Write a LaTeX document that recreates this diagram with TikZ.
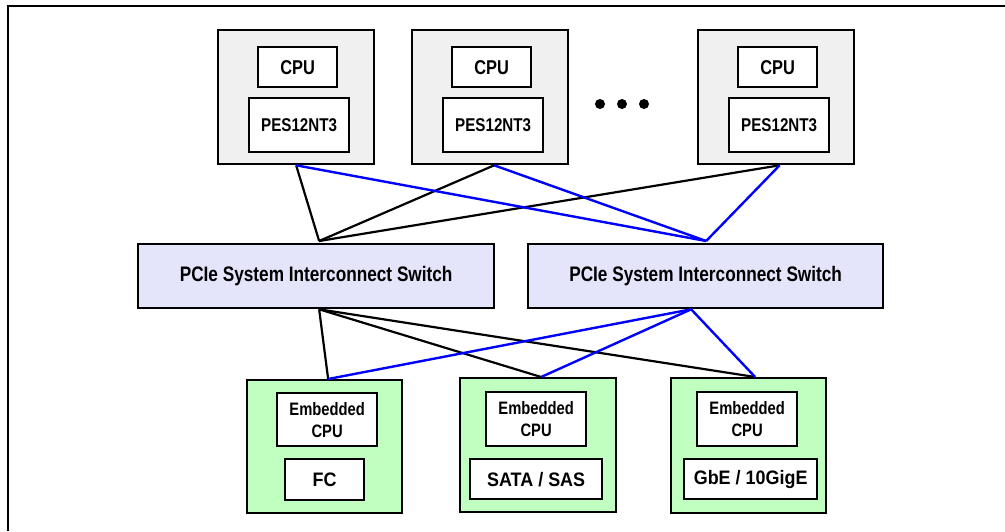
\documentclass[tikz,border=0pt]{standalone}
\usepackage{fontspec}
\setmainfont{Liberation Sans}
\newfontfamily\nf{Liberation Sans}[FakeStretch=0.82]
\newfontfamily\wf{Liberation Sans}[FakeStretch=0.92]
\usetikzlibrary{calc}
\definecolor{hostgray}{HTML}{F0F0F0}
\definecolor{swfill}{HTML}{E4E4FA}
\definecolor{embfill}{HTML}{C0FFC0}
\definecolor{linkblue}{HTML}{0000FF}
\tikzset{
  box/.style={draw=black, line width=2.3pt, inner sep=0pt, anchor=north west, align=center},
  host/.style={box, fill=hostgray, minimum width=156pt, minimum height=134pt},
  inbox/.style={box, fill=white},
  cpubox/.style={inbox, minimum width=79pt, minimum height=40pt, font=\nf\bfseries\fontsize{20}{22}\selectfont},
  pesbox/.style={inbox, minimum width=100pt, minimum height=54pt, font=\nf\bfseries\fontsize{18.5}{22}\selectfont},
  swbox/.style={box, fill=swfill, minimum width=356pt, minimum height=64pt, font=\nf\bfseries\fontsize{21}{24}\selectfont},
  embbox/.style={box, fill=embfill, minimum width=155pt, minimum height=134pt},
  ecpubox/.style={inbox, minimum width=100pt, minimum height=54pt, font=\nf\bfseries\fontsize{18}{22}\selectfont},
  iobox/.style={inbox, minimum height=40pt, font=\wf\bfseries\fontsize{19.5}{22}\selectfont},
  blk/.style={draw=black, line width=2.2pt},
  blu/.style={draw=linkblue, line width=2.4pt},
}
\begin{document}
\begin{tikzpicture}[x=1pt,y=-1pt]
\useasboundingbox (0,0) rectangle (1005,531);
\fill[white] (0,0) rectangle (1005,531);
% partial outer frame
\coordinate (fbl) at (8,531);
\coordinate (ftl) at (8,6);
\coordinate (ftr) at (1005,6);
\draw[line width=2.6pt] (fbl) -- (ftl) -- (ftr);

% hosts
\foreach \n/\x in {1/217,2/411,3/697}{
  \node[host] (h\n) at (\x,29) {};
  \node[cpubox] (h\n c) at (\x+40,46) {CPU};
  \node[pesbox] (h\n p) at (\x+31,97) {PES12NT3};
}
% dots
\fill (600,104) circle (5pt);
\fill (622,104) circle (5pt);
\fill (644,104) circle (5pt);

% switches
\node[swbox] (s1) at (137,243) {PCIe System Interconnect Switch};
\node[swbox, minimum width=355pt] (s2) at (527,243) {PCIe System Interconnect Switch};

% endpoints
\node[embbox, minimum height=133pt] (e1) at (246,379) {};
\node[ecpubox, minimum height=53pt] (e1c) at (276,392) {Embedded\\CPU};
\node[iobox, minimum width=79pt, minimum height=41pt] (e1i) at (284,458) {FC};

\node[embbox, minimum width=156pt] (e2) at (459,377) {};
\node[ecpubox] (e2c) at (485,391) {Embedded\\CPU};
\node[iobox, minimum width=132pt] (e2i) at (469,458) {SATA / SAS};

\node[embbox, minimum height=135pt] (e3) at (670,377) {};
\node[ecpubox] (e3c) at (696,391) {Embedded\\CPU};
\node[iobox, minimum width=133pt] (e3i) at (683,458) {GbE / 10GigE};

% anchor points
\coordinate (h1b) at (h1.south);
\coordinate (h2b) at ([xshift=4pt]h2.south);
\coordinate (h3b) at ([xshift=3.5pt]h3.south);
\coordinate (s1t) at ([xshift=3pt,yshift=2pt]s1.north);
\coordinate (s2t) at ([xshift=0.5pt,yshift=2pt]s2.north);
\coordinate (s1b) at ([xshift=3pt]s1.south);
\coordinate (s2b) at ([xshift=-14.5pt]s2.south);
\coordinate (e1t) at ([xshift=3.5pt]e1.north);
\coordinate (e2t) at ([xshift=3pt]e2.north);
\coordinate (e3t) at ([xshift=6.5pt]e3.north);

% host to switch links
\draw[blk] (h1b) -- (s1t);
\draw[blk] (h2b) -- (s1t);
\draw[blk] (h3b) -- (s1t);
\draw[blu] (h1b) -- (s2t);
\draw[blu] (h2b) -- (s2t);
\draw[blu] (h3b) -- (s2t);

% switch to endpoint links
\draw[blk] (s1b) -- (e1t);
\draw[blk] (s1b) -- (e2t);
\draw[blk] (s1b) -- (e3t);
\draw[blu] (s2b) -- (e1t);
\draw[blu] (s2b) -- (e2t);
\draw[blu] (s2b) -- (e3t);
\end{tikzpicture}
\end{document}
